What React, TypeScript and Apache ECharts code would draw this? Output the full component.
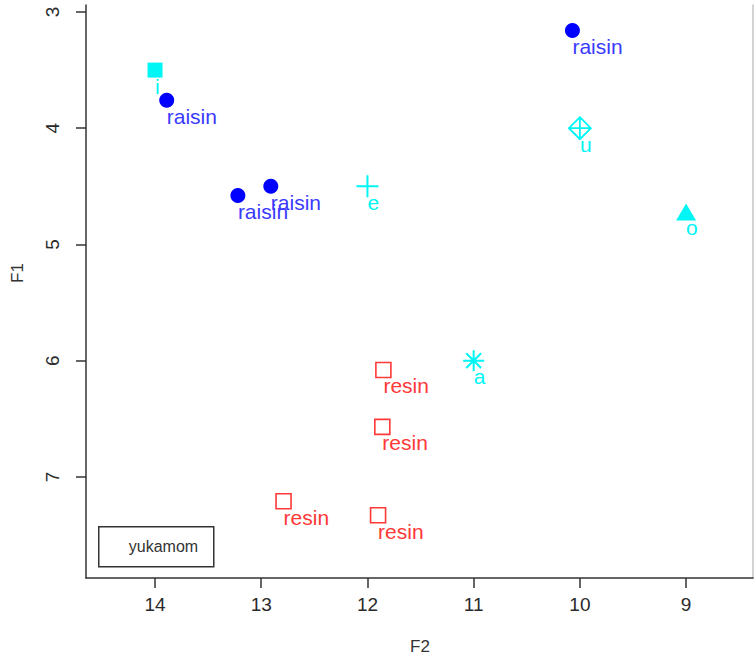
import React, { useEffect, useRef } from "react";
import * as echarts from "echarts";

// Vowel targets (F2, F1 in Bark-like units)
const vowelLabels = ["i", "e", "a", "o", "u"];
const vowelF2 = [14.0, 12.0, 11.0, 9.0, 10.0];
const vowelF1 = [3.5, 4.5, 6.0, 4.72, 4.0];

// "raisin" tokens
const raisinF2 = [13.89, 13.22, 12.91, 10.07];
const raisinF1 = [3.76, 4.58, 4.5, 3.16];

// "resin" tokens
const resinF2 = [11.85, 11.86, 12.79, 11.9];
const resinF1 = [6.08, 6.57, 7.21, 7.33];

const f2Ticks = [9, 10, 11, 12, 13, 14];
const f1Ticks = [3, 4, 5, 6, 7];
const speaker = "yukamom";

const FONT = "Liberation Sans, Arial, Helvetica, sans-serif";
const CYAN = "#00f5f5";
const BLUE = "#0000ff";
const RED = "#ff3838";

const PLUS = "path://M0,-1 L0,1 M-1,0 L1,0";
const DIAMOND_PLUS = "path://M0,-1 L1,0 L0,1 L-1,0 Z M0,-1 L0,1 M-1,0 L1,0";
const ASTERISK =
  "path://M0,-1 L0,1 M-1,0 L1,0 M-0.707,-0.707 L0.707,0.707 M-0.707,0.707 L0.707,-0.707";

// plotting symbol per vowel
const vowelSymbol: Record<string, any> = {
  i: { symbol: "rect", symbolSize: 15, itemStyle: { color: CYAN, opacity: 1 } },
  e: {
    symbol: PLUS,
    symbolSize: 22,
    itemStyle: { color: "rgba(0,0,0,0)", borderColor: CYAN, borderWidth: 2, opacity: 1 },
  },
  a: {
    symbol: ASTERISK,
    symbolSize: 21,
    itemStyle: { color: "rgba(0,0,0,0)", borderColor: CYAN, borderWidth: 2, opacity: 1 },
  },
  o: { symbol: "triangle", symbolSize: [20, 17], itemStyle: { color: CYAN, opacity: 1 } },
  u: {
    symbol: DIAMOND_PLUS,
    symbolSize: 22,
    itemStyle: { color: "rgba(0,0,0,0)", borderColor: CYAN, borderWidth: 1.8, opacity: 1 },
  },
};

const pointLabel = (color: string) => ({
  show: true,
  formatter: "{b}",
  position: "inside" as const,
  align: "left" as const,
  verticalAlign: "middle" as const,
  offset: [0, 16],
  fontSize: 21,
  fontFamily: FONT,
  color,
});

export default function App() {
  const ref = useRef<HTMLDivElement>(null);

  useEffect(() => {
    if (!ref.current) return;
    const chart = echarts.init(ref.current, null, { renderer: "svg" });

    const axisColor = "#333";

    const option: any = {
      animation: false,
      backgroundColor: "#fff",
      grid: { left: 86, right: 1, top: 5, bottom: 84 },
      xAxis: {
        type: "value",
        inverse: true,
        min: 8.37,
        max: 14.65,
        splitLine: { show: false },
        axisLine: { show: true, onZero: false, lineStyle: { color: axisColor, width: 1.5 } },
        axisTick: {
          show: true,
          length: 10,
          customValues: f2Ticks,
          lineStyle: { color: axisColor, width: 1.5 },
        },
        axisLabel: {
          customValues: f2Ticks,
          margin: 17,
          fontSize: 19,
          fontFamily: FONT,
          color: "#2a2a2a",
        },
      },
      yAxis: [
        {
          type: "value",
          inverse: true,
          min: 2.94,
          max: 7.87,
          splitLine: { show: false },
          axisLine: { show: true, onZero: false, lineStyle: { color: axisColor, width: 1.5 } },
          axisTick: {
            show: true,
            length: 10,
            customValues: f1Ticks,
            lineStyle: { color: axisColor, width: 1.5 },
          },
          axisLabel: {
            customValues: f1Ticks,
            rotate: 90,
            margin: 24,
            fontSize: 19,
            fontFamily: FONT,
            color: "#2a2a2a",
          },
        },
        {
          type: "value",
          position: "right",
          inverse: true,
          min: 2.94,
          max: 7.87,
          splitLine: { show: false },
          axisLine: { show: true, onZero: false, lineStyle: { color: "#c4c4c4", width: 1.5 } },
          axisTick: { show: false },
          axisLabel: { show: false },
        },
      ],
      series: [
        {
          name: "resin",
          type: "scatter",
          symbol: "rect",
          symbolSize: 15,
          itemStyle: { color: "rgba(0,0,0,0)", borderColor: RED, borderWidth: 1.6, opacity: 1 },
          label: pointLabel(RED),
          data: resinF2.map((x, i) => ({ name: "resin", value: [x, resinF1[i]] })),
        },
        {
          name: "raisin",
          type: "scatter",
          symbol: "circle",
          symbolSize: 15,
          itemStyle: { color: BLUE, opacity: 1 },
          label: pointLabel("#3a3aff"),
          data: raisinF2.map((x, i) => ({ name: "raisin", value: [x, raisinF1[i]] })),
        },
        {
          name: "vowels",
          type: "scatter",
          label: pointLabel(CYAN),
          data: vowelLabels.map((v, i) => ({
            name: v,
            value: [vowelF2[i], vowelF1[i]],
            ...vowelSymbol[v],
          })),
        },
      ],
      graphic: [
        {
          type: "text",
          x: 17,
          y: 273,
          rotation: Math.PI / 2,
          style: {
            text: "F1",
            fontSize: 17,
            fontFamily: FONT,
            fill: "#333",
            align: "center",
            verticalAlign: "middle",
          },
        },
        {
          type: "text",
          x: 420,
          y: 646,
          style: {
            text: "F2",
            fontSize: 17,
            fontFamily: FONT,
            fill: "#333",
            align: "center",
            verticalAlign: "middle",
          },
        },
        {
          type: "group",
          left: 98,
          top: 526,
          children: [
            {
              type: "rect",
              shape: { x: 0, y: 0, width: 115, height: 40 },
              style: { fill: "#fff", stroke: "#333", lineWidth: 1.5 },
            },
            {
              type: "text",
              x: 30,
              y: 20,
              style: {
                text: speaker,
                fontSize: 16,
                fontFamily: FONT,
                fill: "#333",
                align: "left",
                verticalAlign: "middle",
              },
            },
          ],
        },
      ],
    };

    chart.setOption(option);
    return () => chart.dispose();
  }, []);

  return (
    <div
      ref={ref}
      style={{ position: "fixed", left: 0, top: 0, width: 754, height: 662 }}
    />
  );
}
